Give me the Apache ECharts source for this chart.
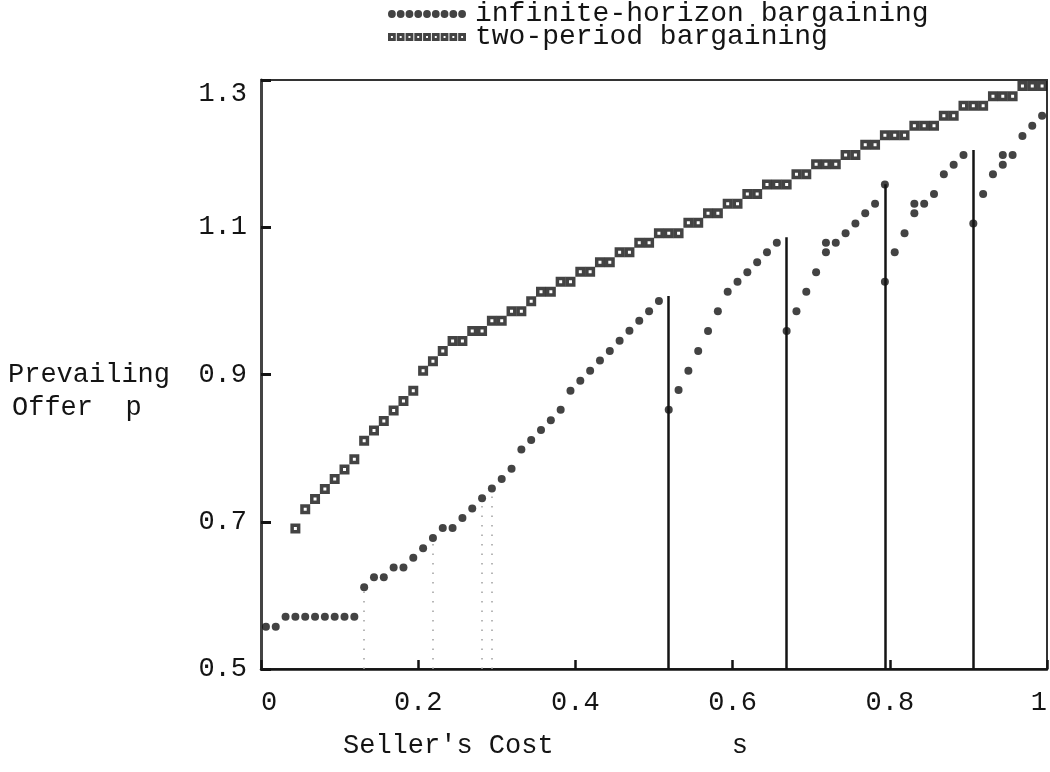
<!DOCTYPE html>
<html>
<head>
<meta charset="utf-8">
<script src="https://cdn.jsdelivr.net/npm/echarts@6/dist/echarts.min.js"></script>
<style>
  html, body { margin: 0; padding: 0; background: #fff; }
  #main { width: 1050px; height: 772px; }
</style>
</head>
<body>
<div id="main"></div>
<script>
// seller's cost grid (80 sample points)
var costs = [0.00625, 0.01875, 0.03125, 0.04375, 0.05625, 0.06875, 0.08125, 0.09375, 0.10625, 0.11875,
             0.13125, 0.14375, 0.15625, 0.16875, 0.18125, 0.19375, 0.20625, 0.21875, 0.23125, 0.24375,
             0.25625, 0.26875, 0.28125, 0.29375, 0.30625, 0.31875, 0.33125, 0.34375, 0.35625, 0.36875,
             0.38125, 0.39375, 0.40625, 0.41875, 0.43125, 0.44375, 0.45625, 0.46875, 0.48125, 0.49375,
             0.50625, 0.51875, 0.53125, 0.54375, 0.55625, 0.56875, 0.58125, 0.59375, 0.60625, 0.61875,
             0.63125, 0.64375, 0.65625, 0.66875, 0.68125, 0.69375, 0.70625, 0.71875, 0.73125, 0.74375,
             0.75625, 0.76875, 0.78125, 0.79375, 0.80625, 0.81875, 0.83125, 0.84375, 0.85625, 0.86875,
             0.88125, 0.89375, 0.90625, 0.91875, 0.93125, 0.94375, 0.95625, 0.96875, 0.98125, 0.99375];

// infinite-horizon bargaining offer
var infinitePrice = [0.5575, 0.5575, 0.571, 0.571, 0.571, 0.571, 0.571, 0.571, 0.571, 0.571,
                     0.611, 0.6245, 0.6245, 0.638, 0.638, 0.651, 0.664, 0.678, 0.6915, 0.6915,
                     0.705, 0.718, 0.732, 0.745, 0.758, 0.772, 0.798, 0.811, 0.8245, 0.838,
                     0.852, 0.878, 0.8915, 0.905, 0.919, 0.932, 0.946, 0.9595, 0.973, 0.986,
                     1.000, 0.852, 0.879, 0.905, 0.932, 0.959, 0.986, 1.0125, 1.026, 1.039,
                     1.0525, 1.066, 1.079, 0.959, 0.986, 1.0125, 1.039, 1.066, 1.079, 1.092,
                     1.105, 1.119, 1.132, 1.026, 1.066, 1.092, 1.119, 1.132, 1.145, 1.172,
                     1.185, 1.198, 1.105, 1.145, 1.172, 1.185, 1.198, 1.224, 1.238, 1.2515];
// second offer printed at the same cost
var infiniteExtraCost = [0.71875, 0.79375, 0.83125, 0.94375];
var infiniteExtraPrice = [1.079, 1.158, 1.132, 1.198];

// two-period bargaining offer (none for the first three costs)
var twoPeriodPrice = [null, null, null, 0.691, 0.717, 0.731, 0.7445, 0.758, 0.771, 0.785,
                      0.810, 0.824, 0.837, 0.851, 0.864, 0.878, 0.905, 0.918, 0.932, 0.9455,
                      0.9455, 0.959, 0.959, 0.973, 0.973, 0.986, 0.986, 0.9995, 1.0125, 1.0125,
                      1.026, 1.026, 1.0395, 1.0395, 1.0525, 1.0525, 1.066, 1.066, 1.079, 1.079,
                      1.092, 1.092, 1.092, 1.106, 1.106, 1.119, 1.119, 1.132, 1.132, 1.145,
                      1.145, 1.158, 1.158, 1.158, 1.172, 1.172, 1.1855, 1.1855, 1.1855, 1.198,
                      1.198, 1.212, 1.212, 1.225, 1.225, 1.225, 1.238, 1.238, 1.238, 1.2515,
                      1.2515, 1.265, 1.265, 1.265, 1.278, 1.278, 1.278, 1.292, 1.292, 1.292];

// vertical jump lines (solid) and dotted guide lines
var jumpCost = [0.51875, 0.66875, 0.79375, 0.90625];
var jumpTop = [1.0066, 1.0864, 1.1583, 1.2049];
var guideCost = [0.13125, 0.21875, 0.28125, 0.29375];
var guideTop = [0.611, 0.678, 0.732, 0.745];

var yTicks = ['0.5', '0.7', '0.9', '1.1', '1.3'];

var FONT = 'Liberation Mono, DejaVu Sans Mono, monospace';
var INK = '#141414';

var infData = [];
for (var i = 0; i < costs.length; i++) infData.push([costs[i], infinitePrice[i]]);
for (var i = 0; i < infiniteExtraCost.length; i++) infData.push([infiniteExtraCost[i], infiniteExtraPrice[i]]);

var twoData = [];
for (var i = 0; i < costs.length; i++) {
    if (twoPeriodPrice[i] != null) twoData.push([costs[i], twoPeriodPrice[i]]);
}

var lines = [];
for (var i = 0; i < jumpCost.length; i++) {
    lines.push([{coord: [jumpCost[i], 0.5], lineStyle: {color: INK, width: 2.5, type: 'solid'}},
                {coord: [jumpCost[i], jumpTop[i]]}]);
}
for (var i = 0; i < guideCost.length; i++) {
    lines.push([{coord: [guideCost[i], 0.5], lineStyle: {color: '#a0a0a0', width: 1.5, type: [1.5, 8]}},
                {coord: [guideCost[i], guideTop[i]]}]);
}

// legend icons: a row of dots, a row of hollow-centred squares
var dotIcon = 'path://';
var sqIcon = 'path://';
for (var k = 0; k < 9; k++) {
    var cx = 4 + k * 9;
    dotIcon += 'M' + (cx - 4) + ',4a4,4 0 1,0 8,0a4,4 0 1,0 -8,0';
    var x0 = k * 9;
    sqIcon += 'M' + x0 + ',0h8v8h-8z' + 'M' + (x0 + 3) + ',3v2h2v-2z';
}

var myChart = echarts.init(document.getElementById('main'));

var option = {
    backgroundColor: '#fff',
    animation: false,
    textStyle: {fontFamily: FONT, color: INK},
    legend: {
        orient: 'vertical',
        left: 388,
        top: 0,
        padding: 0,
        itemGap: -5,
        itemWidth: 78,
        itemHeight: 8,
        selectedMode: false,
        textStyle: {fontFamily: FONT, fontSize: 28, color: INK, padding: [0, 0, 0, 4]},
        data: [
            {name: 'infinite-horizon bargaining', icon: dotIcon, itemStyle: {color: INK, borderWidth: 0}},
            {name: 'two-period bargaining', icon: sqIcon, itemStyle: {color: INK, borderWidth: 0}}
        ]
    },
    grid: {
        left: 261,
        right: 3,
        top: 80,
        bottom: 103,
        outerBoundsMode: 'none',
        show: true,
        borderColor: '#333',
        borderWidth: 2
    },
    xAxis: {
        type: 'value',
        min: 0,
        max: 1,
        interval: 0.2,
        axisLine: {show: true, lineStyle: {color: INK, width: 2.5}},
        axisTick: {show: true, inside: true, length: 9, lineStyle: {color: INK, width: 2.5}},
        axisLabel: {fontFamily: FONT, fontSize: 27, color: INK, margin: 20,
                    alignMinLabel: 'left', alignMaxLabel: 'right'},
        splitLine: {show: false}
    },
    yAxis: {
        type: 'value',
        min: 0.5,
        max: 1.3,
        interval: 0.2,
        axisLine: {show: true, lineStyle: {color: '#444', width: 3}},
        axisTick: {show: true, inside: true, length: 10, lineStyle: {color: INK, width: 3}},
        axisLabel: {
            fontFamily: FONT, fontSize: 27, color: INK, margin: 14,
            verticalAlignMaxLabel: 'top',
            formatter: function (v) {
                var idx = Math.round((v - 0.5) / 0.2);
                return yTicks[idx] || '';
            }
        },
        splitLine: {show: false}
    },
    graphic: [
        {type: 'text', left: 8, top: 361, style: {text: 'Prevailing', font: '27px ' + FONT, fill: INK}},
        {type: 'text', left: 12, top: 394, style: {text: 'Offer  p', font: '27px ' + FONT, fill: INK}},
        {type: 'text', left: 343, top: 732, style: {text: "Seller's Cost           s", font: '27px ' + FONT, fill: INK}}
    ],
    series: [
        {
            name: 'infinite-horizon bargaining',
            type: 'scatter',
            symbol: 'circle',
            symbolSize: 8,
            itemStyle: {color: INK},
            data: infData,
            z: 3,
            markLine: {
                silent: true,
                symbol: ['none', 'none'],
                label: {show: false},
                data: lines
            }
        },
        {
            name: 'two-period bargaining',
            type: 'scatter',
            symbol: 'rect',
            symbolSize: 6.5,
            itemStyle: {color: '#fff', borderColor: INK, borderWidth: 3.5},
            data: twoData,
            z: 3
        }
    ]
};

myChart.setOption(option);
</script>
</body>
</html>
